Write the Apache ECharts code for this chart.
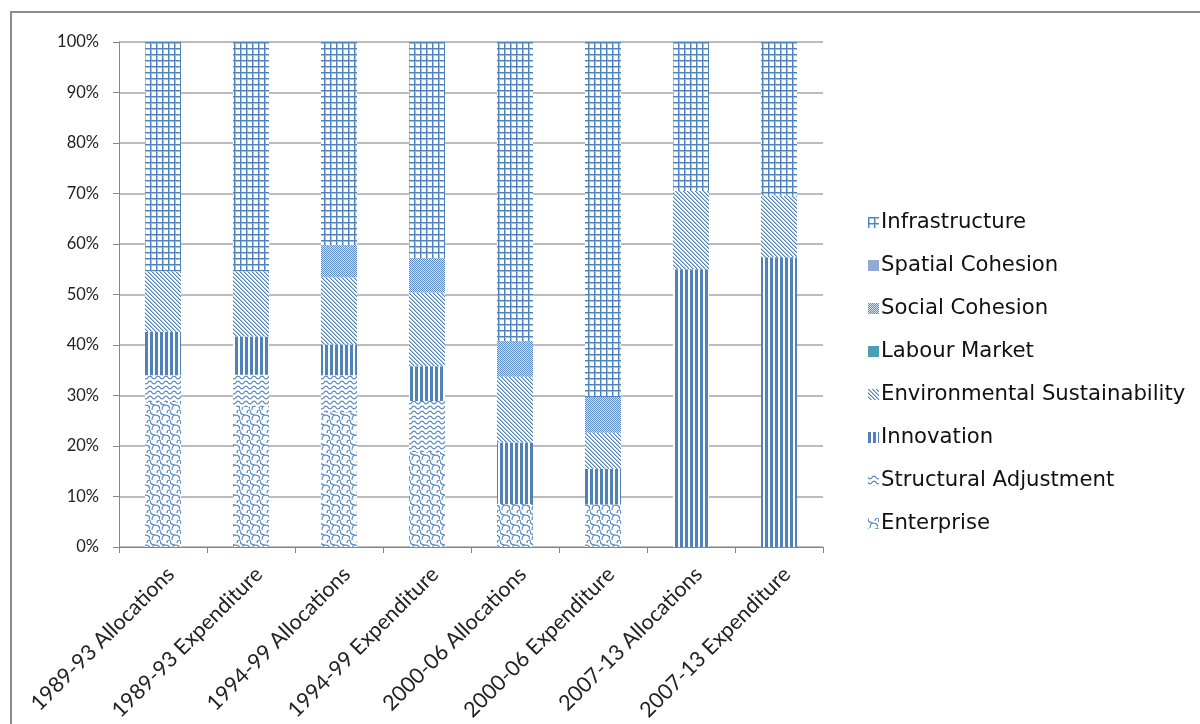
<!DOCTYPE html>
<html>
<head>
<meta charset="utf-8">
<script src="https://cdn.jsdelivr.net/npm/echarts@6/dist/echarts.min.js"></script>
<style>
  html, body { margin: 0; padding: 0; background: #fff; }
  #chart { width: 1200px; height: 724px; }
</style>
</head>
<body>
<div id="chart"></div>
<script>
// Programme periods (allocations vs. expenditure), share of total in percent
const categories = [
  '1989-93 Allocations', '1989-93 Expenditure',
  '1994-99 Allocations', '1994-99 Expenditure',
  '2000-06 Allocations', '2000-06 Expenditure',
  '2007-13 Allocations', '2007-13 Expenditure'
];
const enterprise      = [28.7, 27.7, 26.7, 18.8, 8.5, 8.4, 0, 0];
const structuralAdj   = [5.3, 6.4, 7.3, 10.1, 0, 0, 0, 0];
const innovation      = [8.6, 7.6, 6.1, 6.9, 12.2, 7.1, 55.0, 57.4];
const environmental   = [12.0, 12.9, 13.3, 14.6, 13.0, 7.1, 15.5, 12.2];
const labourMarket    = [0, 0, 0, 0, 0, 0, 0, 0];
const socialCohesion  = [0, 0, 6.4, 6.8, 7.1, 7.1, 0, 0];
const spatialCohesion = [0, 0, 0, 0, 0, 0, 0, 0];
const infrastructure  = [45.4, 45.4, 40.2, 42.8, 59.2, 70.3, 29.5, 30.4];
const yTicks = [0, 10, 20, 30, 40, 50, 60, 70, 80, 90, 100];

const BLUE = '#4f81bd';
const SOFT = '#a9c1e0';

// Build small repeating canvas tiles used as pattern fills
function tile(w, h, draw) {
  const c = document.createElement('canvas');
  c.width = w; c.height = h;
  const ctx = c.getContext('2d');
  ctx.fillStyle = '#fff';
  ctx.fillRect(0, 0, w, h);
  draw(ctx, w, h);
  return { image: c, repeat: 'repeat' };
}

const patterns = {
  grid: tile(6, 6, (ctx) => {
    ctx.fillStyle = SOFT;
    ctx.fillRect(0, 1, 6, 1);
    ctx.fillRect(1, 0, 1, 6);
    ctx.fillStyle = BLUE;
    ctx.fillRect(0, 0, 6, 1);
    ctx.fillRect(0, 0, 1, 6);
  }),
  checker: tile(2, 2, (ctx) => {
    ctx.fillStyle = '#5e8cc4';
    ctx.fillRect(0, 0, 1, 1);
    ctx.fillRect(1, 1, 1, 1);
    ctx.fillStyle = '#d5e1f0';
    ctx.fillRect(1, 0, 1, 1);
    ctx.fillRect(0, 1, 1, 1);
  }),
  diagonal: tile(4, 4, (ctx) => {
    for (let i = 0; i < 4; i++) {
      ctx.fillStyle = BLUE;
      ctx.fillRect(i, i, 1, 1);
      ctx.fillStyle = SOFT;
      ctx.fillRect((i + 1) % 4, i, 1, 1);
    }
  }),
  vertical: tile(5, 5, (ctx) => {
    ctx.fillStyle = BLUE;
    ctx.fillRect(0, 0, 3, 5);
  }),
  wave: tile(8, 5, (ctx) => {
    ctx.strokeStyle = BLUE;
    ctx.lineWidth = 1.1;
    ctx.beginPath();
    for (let x = -1; x <= 9; x += 0.5) {
      const y = 2.5 + 1.4 * Math.sin((2 * Math.PI * x) / 8);
      if (x === -1) ctx.moveTo(x, y); else ctx.lineTo(x, y);
    }
    ctx.stroke();
  }),
  shingle: tile(10, 10, (ctx) => {
    ctx.strokeStyle = BLUE;
    ctx.lineWidth = 1.1;
    ctx.beginPath();
    ctx.moveTo(0, 0);
    ctx.quadraticCurveTo(0, 5, 5, 5);
    ctx.quadraticCurveTo(10, 5, 10, 10);
    ctx.moveTo(10, 0);
    ctx.quadraticCurveTo(7, 0, 7, 3);
    ctx.moveTo(5, 5);
    ctx.quadraticCurveTo(2, 6, 2, 10);
    ctx.stroke();
  })
};

const seriesDefs = [
  { name: 'Enterprise', data: enterprise, color: patterns.shingle },
  { name: 'Structural Adjustment', data: structuralAdj, color: patterns.wave },
  { name: 'Innovation', data: innovation, color: patterns.vertical },
  { name: 'Environmental Sustainability', data: environmental, color: patterns.diagonal },
  { name: 'Labour Market', data: labourMarket, color: '#4a9fb3' },
  { name: 'Social Cohesion', data: socialCohesion, color: patterns.checker },
  { name: 'Spatial Cohesion', data: spatialCohesion, color: '#93a9d3' },
  { name: 'Infrastructure', data: infrastructure, color: patterns.grid }
];

const chart = echarts.init(document.getElementById('chart'), null, { renderer: 'canvas' });

const labelFont = 'Lato, "Open Sans", sans-serif';

chart.setOption({
  animation: false,
  backgroundColor: '#fff',
  graphic: [{
    type: 'rect',
    shape: { x: 11, y: 12, width: 1300, height: 800 },
    style: { fill: 'none', stroke: '#8c8c8c', lineWidth: 2 },
    z: 0
  }],
  grid: { left: 119, right: 377, top: 42, bottom: 177, containLabel: false },
  legend: {
    orient: 'vertical',
    left: 863,
    top: 207,
    data: seriesDefs.map(s => s.name).reverse(),
    itemWidth: 11,
    itemHeight: 11,
    itemGap: 22,
    icon: 'rect',
    textStyle: {
      fontFamily: '"DejaVu Sans", sans-serif',
      fontSize: 21.2,
      lineHeight: 21,
      color: '#111',
      padding: [0, 0, 0, -3]
    }
  },
  xAxis: {
    type: 'category',
    data: categories,
    axisLine: { lineStyle: { color: '#868686', width: 1 } },
    axisTick: { show: true, length: 6, lineStyle: { color: '#868686' } },
    axisLabel: {
      rotate: 45,
      interval: 0,
      margin: 16,
      verticalAlign: 'top',
      fontFamily: labelFont,
      fontSize: 21.5,
      color: '#222'
    }
  },
  yAxis: {
    type: 'value',
    min: yTicks[0],
    max: yTicks[yTicks.length - 1],
    interval: yTicks[1] - yTicks[0],
    axisLine: { show: true, lineStyle: { color: '#868686', width: 1 } },
    axisTick: { show: true, length: 6, lineStyle: { color: '#868686' } },
    splitLine: { lineStyle: { color: '#a6a6a6', width: 1.5 } },
    axisLabel: {
      formatter: '{value}%',
      margin: 20,
      fontFamily: labelFont,
      fontSize: 16.5,
      color: '#222'
    }
  },
  series: seriesDefs.map(s => ({
    name: s.name,
    type: 'bar',
    stack: 'total',
    barWidth: 36,
    data: s.data,
    itemStyle: { color: s.color },
    emphasis: { disabled: true }
  }))
});
</script>
</body>
</html>
